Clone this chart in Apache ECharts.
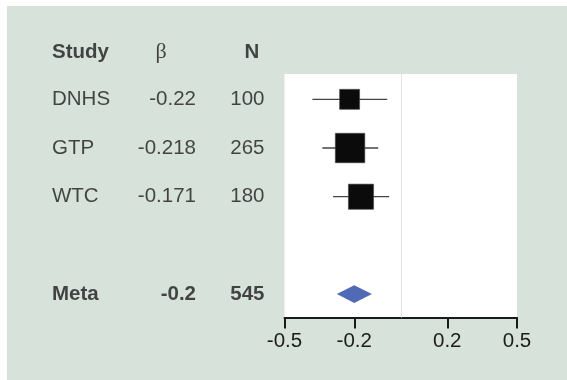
<!DOCTYPE html>
<html>
<head>
<meta charset="utf-8">
<script src="https://cdn.jsdelivr.net/npm/echarts@6/dist/echarts.min.js"></script>
<style>
  html, body { margin: 0; padding: 0; background: #fff; }
  #chart {
    width: 567px; height: 380px;
    background:
      linear-gradient(#fff, #fff) 0 0 / 567px 6px no-repeat,
      linear-gradient(#fff, #fff) 0 0 / 7px 380px no-repeat,
      #d7e2da;
  }
</style>
</head>
<body>
<div id="chart"></div>
<script>
// ---- data ----
const headers = ['Study', 'β', 'N'];
const studies = ['DNHS', 'GTP', 'WTC'];
const betas = [-0.22, -0.218, -0.171];
const ns = [100, 265, 180];
const ciLow = [-0.38, -0.337, -0.291];
const ciHigh = [-0.058, -0.097, -0.05];
const metaLabel = 'Meta';
const metaBeta = -0.2;
const metaN = 545;
const metaLow = -0.275;
const metaHigh = -0.124;
const xTicks = [-0.5, -0.2, 0.2, 0.5];
const refValue = 0;

// ---- layout / style ----
const FONT = "'Liberation Sans', Arial, Helvetica, sans-serif";
const SERIF = "'Liberation Serif', 'DejaVu Serif', serif";
const FS = 20.5;
const TXT = '#1c1c1c';
const ROW_MIN = 0.48, ROW_MAX = 5.48;
const studyRows = studies.map((s, i) => i + 1);
const metaRow = 5;
const COL_STUDY = 52, COL_BETA = 196, COL_N = 264.5, HEAD_BETA = 161, HEAD_N = 252;

function cell(x, row, text, pos, opts) {
  return {
    value: [x, row],
    label: Object.assign({
      show: true, position: pos, distance: 0, formatter: text,
      fontFamily: FONT, fontSize: FS, color: TXT
    }, opts || {})
  };
}

const tableData = [];
tableData.push(cell(COL_STUDY, 0, headers[0], 'right', {fontWeight: 'bold', offset: [0, 2]}));
tableData.push(cell(HEAD_BETA, 0, headers[1], 'inside', {fontFamily: SERIF, fontSize: 22, offset: [0, 2]}));
tableData.push(cell(HEAD_N, 0, headers[2], 'inside', {fontWeight: 'bold', offset: [0, 2]}));
studies.forEach((s, i) => {
  tableData.push(cell(COL_STUDY, studyRows[i], s, 'right'));
  tableData.push(cell(COL_BETA, studyRows[i], String(betas[i]), 'left'));
  tableData.push(cell(COL_N, studyRows[i], String(ns[i]), 'left'));
});
tableData.push(cell(COL_STUDY, metaRow, metaLabel, 'right', {fontWeight: 'bold'}));
tableData.push(cell(COL_BETA, metaRow, String(metaBeta), 'left', {fontWeight: 'bold'}));
tableData.push(cell(COL_N, metaRow, String(metaN), 'left', {fontWeight: 'bold'}));

const chart = echarts.init(document.getElementById('chart'), null, {renderer: 'canvas'});
chart.setOption({
  backgroundColor: 'transparent',
  animation: false,
  grid: [
    {left: 284.5, top: 74, width: 232.5, height: 243.5, show: true, backgroundColor: '#fff', borderWidth: 0},
    {left: 0, top: 74, width: 567, height: 243.5, show: false}
  ],
  xAxis: [
    {
      gridIndex: 0, type: 'value', min: -0.5, max: 0.5,
      splitLine: {show: false},
      axisLine: {show: true, onZero: false, lineStyle: {color: '#1a1a1a', width: 2}},
      axisTick: {show: true, customValues: xTicks, length: 11, lineStyle: {color: '#1a1a1a', width: 2}},
      axisLabel: {
        customValues: xTicks, margin: 13,
        fontFamily: FONT, fontSize: FS, color: TXT,
        formatter: v => String(v)
      }
    },
    {gridIndex: 1, type: 'value', min: 0, max: 567, show: false}
  ],
  yAxis: [
    {gridIndex: 0, type: 'value', min: ROW_MIN, max: ROW_MAX, inverse: true, show: false},
    {gridIndex: 1, type: 'value', min: ROW_MIN, max: ROW_MAX, inverse: true, show: false}
  ],
  series: [
    {
      type: 'custom', xAxisIndex: 0, yAxisIndex: 0, clip: false,
      data: studies.map((s, i) => [betas[i], studyRows[i], ciLow[i], ciHigh[i], ns[i]]),
      encode: {x: 0, y: 1},
      renderItem: function (params, api) {
        const r = api.value(1);
        const c = api.coord([api.value(0), r]);
        const lo = api.coord([api.value(2), r]);
        const hi = api.coord([api.value(3), r]);
        const size = 4.9 + 1.51 * Math.sqrt(api.value(4));
        return {
          type: 'group',
          children: [
            {type: 'line', shape: {x1: lo[0], y1: lo[1], x2: hi[0], y2: hi[1]},
             style: {stroke: '#444', lineWidth: 1.3}},
            {type: 'rect', shape: {x: c[0] - size / 2, y: c[1] - size / 2, width: size, height: size},
             style: {fill: '#0b0b0b', stroke: '#444', lineWidth: 0.6}}
          ]
        };
      },
      markLine: {
        silent: true, symbol: 'none', label: {show: false},
        lineStyle: {color: '#e3e3e3', width: 1, type: 'solid'},
        data: [{xAxis: refValue}]
      },
      z: 3
    },
    {
      type: 'custom', xAxisIndex: 0, yAxisIndex: 0, clip: false,
      data: [[metaBeta, metaRow, metaLow, metaHigh]],
      encode: {x: 0, y: 1},
      renderItem: function (params, api) {
        const r = api.value(1);
        const c = api.coord([api.value(0), r]);
        const lo = api.coord([api.value(2), r]);
        const hi = api.coord([api.value(3), r]);
        const h = 8.8;
        return {
          type: 'polygon',
          shape: {points: [[lo[0], lo[1]], [c[0], c[1] - h], [hi[0], hi[1]], [c[0], c[1] + h]]},
          style: {fill: '#516ab5'}
        };
      },
      z: 3
    },
    {
      type: 'scatter', xAxisIndex: 1, yAxisIndex: 1, clip: false,
      symbolSize: 0, silent: true,
      data: tableData
    }
  ]
});
</script>
</body>
</html>
